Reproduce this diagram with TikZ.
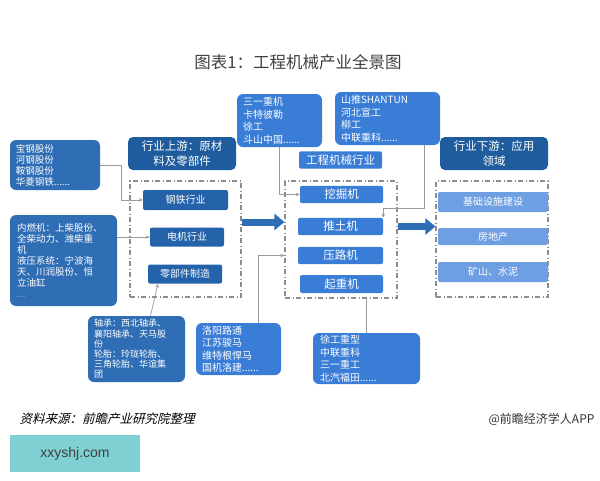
\documentclass[tikz,border=0pt]{standalone}
\usepackage{fontspec}
\setmainfont{Liberation Sans}
\newfontfamily\cjk{Noto Sans CJK SC}
\newfontfamily\cjkslant[FakeSlant=0.25]{Noto Sans CJK SC}
\usetikzlibrary{arrows.meta}

\definecolor{headblue}{HTML}{1E5C9E}
\definecolor{firmblue}{HTML}{2F6DB5}
\definecolor{itemblue}{HTML}{2463AA}
\definecolor{midblue}{HTML}{3A7DD6}
\definecolor{lightblue}{HTML}{6E9FE2}
\definecolor{zonegray}{HTML}{8C8C8C}
\definecolor{linkgray}{HTML}{9A9A9A}
\definecolor{tealbox}{HTML}{7FD0D2}

\tikzset{
  firm/.style={fill=firmblue, rounded corners=6pt, text=white, align=left, inner sep=0pt,
    font=\cjk\fontsize{9.5}{11}\selectfont},
  maker/.style={fill=midblue, rounded corners=6pt, text=white, align=left, inner sep=0pt,
    font=\cjk\fontsize{10}{12.5}\selectfont},
  header/.style={fill=headblue, rounded corners=5pt, text=white, align=center,
    font=\cjk\fontsize{11.5}{15}\selectfont},
  upitem/.style={fill=itemblue, rounded corners=2pt, text=white, font=\cjk\fontsize{10}{12}\selectfont},
  miditem/.style={fill=midblue, rounded corners=2pt, text=white, font=\cjk\fontsize{11.5}{13}\selectfont},
  downitem/.style={fill=lightblue, rounded corners=2pt, text=white, font=\cjk\fontsize{10}{12}\selectfont},
  zone/.style={draw=zonegray, line width=1.2pt, dash pattern=on 5pt off 2.5pt on 1pt off 2.5pt},
  link/.style={draw=linkgray, line width=0.7pt, -{Stealth[length=4pt,width=3.5pt]}},
  plainlink/.style={draw=linkgray, line width=0.7pt},
  bigarrow/.style={draw=firmblue, line width=7pt, -{Triangle[length=10pt,width=16pt]}},
}

\begin{document}
\begin{tikzpicture}[x=1pt,y=-1pt]
  \useasboundingbox[fill=white] (0,0) rectangle (600,480);

  % title
  \node[font=\cjk\fontsize{16.5}{18}\selectfont, text=black!75] (title) at (298,62) {图表1：工程机械产业全景图};

  % frames
  \node[zone, minimum width=111, minimum height=116] (upzone) at (185.5,239) {};
  \node[zone, minimum width=112, minimum height=117] (midzone) at (341,239.5) {};
  \node[zone, minimum width=112, minimum height=116] (downzone) at (492,239) {};

  % upstream
  \node[firm, minimum width=90, minimum height=50, text width=78] (steelfirms) at (55,165)
    {宝钢股份\\河钢股份\\鞍钢股份\\华菱钢铁......};
  \node[firm, minimum width=107, minimum height=91, text width=93] (enginefirms) at (63.5,260.5)
    {内燃机：上柴股份、\\全柴动力、潍柴重\\机\\液压系统：宁波海\\天、川润股份、恒\\立油缸\\{\tiny ......}};
  \node[firm, font=\cjk\fontsize{9}{10.2}\selectfont, minimum width=97, minimum height=66, text width=85] (partfirms) at (136.5,349)
    {轴承：西北轴承、\\襄阳轴承、天马股\\份\\轮胎：玲珑轮胎、\\三角轮胎、华谊集\\团};
  \node[header, minimum width=108, minimum height=33] (uphead) at (182,153.5) {行业上游：原材\\料及零部件};
  \node[upitem, minimum width=85, minimum height=20] (steel) at (185.5,200) {钢铁行业};
  \node[upitem, minimum width=74, minimum height=19] (motor) at (187,237) {电机行业};
  \node[upitem, minimum width=74, minimum height=19] (parts) at (185,274) {零部件制造};

  % midstream
  \node[maker, minimum width=85, minimum height=53, text width=73] (sany) at (279.5,120.5)
    {三一重机\\卡特彼勒\\徐工\\斗山中国......};
  \node[maker, minimum width=105, minimum height=53, text width=93] (shantui) at (387.5,118.5)
    {山推SHANTUN\\河北宣工\\柳工\\中联重科......};
  \node[miditem, minimum width=83, minimum height=16] (industry) at (340.5,160) {工程机械行业};
  \node[miditem, minimum width=83, minimum height=17] (excav) at (341.5,194.5) {挖掘机};
  \node[miditem, minimum width=85, minimum height=17] (dozer) at (340.5,226.5) {推土机};
  \node[miditem, minimum width=85, minimum height=17] (roller) at (340.5,255.5) {压路机};
  \node[miditem, minimum width=83, minimum height=18] (crane) at (341.5,284) {起重机};
  \node[maker, minimum width=85, minimum height=52, text width=73] (luoyang) at (238.5,349)
    {洛阳路通\\江苏骏马\\维特根悍马\\国机洛建......};
  \node[maker, minimum width=107, minimum height=51, text width=93] (xcmg) at (366.5,358.5)
    {徐工重型\\中联重科\\三一重工\\北汽福田......};

  % downstream
  \node[header, minimum width=108, minimum height=33] (downhead) at (494,153.5) {行业下游：应用\\领域};
  \node[downitem, minimum width=110, minimum height=20] (infra) at (493,202) {基础设施建设};
  \node[downitem, minimum width=110, minimum height=17] (estate) at (493,236.5) {房地产};
  \node[downitem, minimum width=110, minimum height=20] (mine) at (493,272) {矿山、水泥};

  % connectors
  \draw[link] (steelfirms.east) -| ([xshift=-21pt]steel.west) -- (steel.west);
  \draw[link] (enginefirms.east |- motor.west) -- (motor.west);
  \draw[link] ([xshift=14pt]partfirms.north) -- ([xshift=-27pt]parts.south);
  \draw[link] (sany.south) |- (excav.west);
  \draw[link] ([xshift=36.5pt]shantui.south) |- ([yshift=9pt]dozer.north east) -- (dozer.north east);
  \draw[link] ([xshift=19.5pt]luoyang.north) |- (midzone.west |- roller.west);
  \draw[plainlink] (xcmg.north) -- (xcmg.north |- midzone.south);
  \draw[bigarrow] ([yshift=17pt]upzone.east) -- ([yshift=17pt]upzone.east -| midzone.west);
  \draw[bigarrow] ([yshift=13pt]midzone.east) -- ([yshift=13pt]midzone.east -| downzone.west);

  % footer
  \node[font=\cjkslant\fontsize{12.5}{14}\selectfont, anchor=west] (source) at (16,419) {资料来源：前瞻产业研究院整理};
  \node[font=\cjk\fontsize{12}{14}\selectfont, anchor=east, text=black!80] (credit) at (598,419) {@前瞻经济学人APP};
  \node[fill=tealbox, minimum width=130, minimum height=37, font=\fontsize{14}{16}\selectfont, text=black!75] (site) at (75,453.5) {xxyshj.com};
\end{tikzpicture}
\end{document}
